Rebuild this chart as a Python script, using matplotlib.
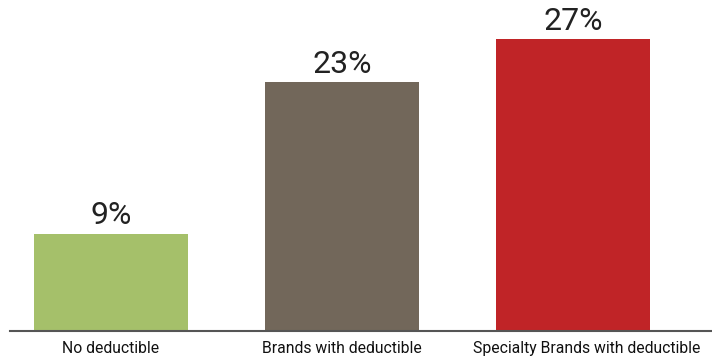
import matplotlib.pyplot as plt
import matplotlib.transforms as mtransforms

# Chart data
categories = ["No deductible", "Brands with deductible", "Specialty Brands with deductible"]
values = [9, 23, 27]
bar_colors = ["#A5C06A", "#72675A", "#C02427"]

fig = plt.figure(figsize=(7.12, 3.56), dpi=100)
ax = fig.add_axes([10 / 712, 25 / 356, 702 / 712, 331 / 356])

x = range(len(categories))
ax.bar(x, values, width=0.667, color=bar_colors)

# value labels above bars
for i, v in zip(x, values):
    ax.text(i, v + 0.3, f"{v}%", ha="center", va="bottom",
            fontsize=23, family="Roboto", color="#222222")

ax.set_xlim(-0.437, 2.602)
ax.set_ylim(0, 30.6)
ax.set_yticks([])
ax.set_xticks(list(x))
labels = ax.set_xticklabels(categories, fontsize=11.3, family="Roboto",
                            color="#111111")
ax.tick_params(axis="x", length=0, pad=7)

# last label is nudged right in the original so it stays inside the edge
shift = mtransforms.ScaledTranslation(14 / 100, 0, fig.dpi_scale_trans)
labels[-1].set_transform(labels[-1].get_transform() + shift)

for side in ["top", "right", "left"]:
    ax.spines[side].set_visible(False)
ax.spines["bottom"].set_color("#555555")
ax.spines["bottom"].set_linewidth(1.5)

fig.savefig("out.png", dpi=100)
